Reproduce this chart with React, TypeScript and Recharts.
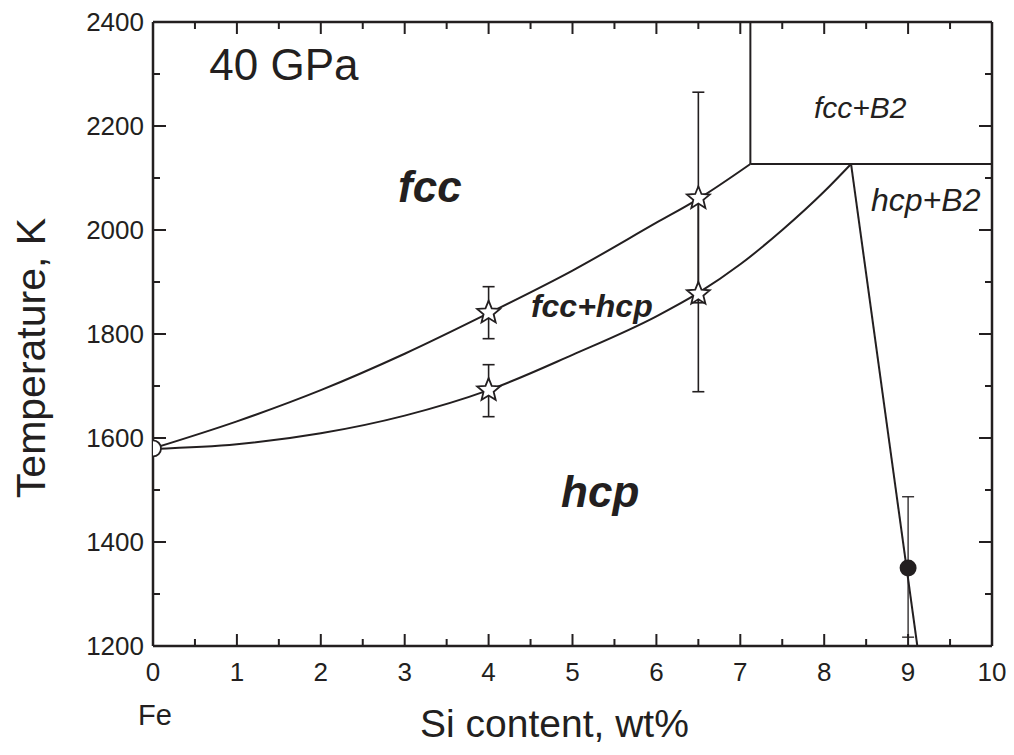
import React from "react";
import {
  ComposedChart,
  Line,
  Scatter,
  XAxis,
  YAxis,
  ErrorBar,
  ReferenceDot,
  Label,
} from "recharts";

const INK = "#231f20";
const FONT = "'Liberation Sans', Arial, Helvetica, sans-serif";

// axis ticks (major ones get a label)
const xTicks = [0, 0.5, 1, 1.5, 2, 2.5, 3, 3.5, 4, 4.5, 5, 5.5, 6, 6.5, 7, 7.5, 8, 8.5, 9, 9.5, 10];
const yTicks = [1200, 1300, 1400, 1500, 1600, 1700, 1800, 1900, 2000, 2100, 2200, 2300, 2400];
const xTickLabels = ["0", "1", "2", "3", "4", "5", "6", "7", "8", "9", "10"];
const yTickLabels = ["1200", "1400", "1600", "1800", "2000", "2200", "2400"];

// phase boundaries, Si wt% vs K
const fccBoundary = [
  { x: 0, y: 1580 },
  { x: 1, y: 1632 },
  { x: 2, y: 1692 },
  { x: 3, y: 1762 },
  { x: 4, y: 1840 },
  { x: 5, y: 1922 },
  { x: 6, y: 2014 },
  { x: 6.5, y: 2060 },
  { x: 7.12, y: 2127 },
];
const hcpBoundary = [
  { x: 0, y: 1579 },
  { x: 1, y: 1588 },
  { x: 2, y: 1609 },
  { x: 3, y: 1643 },
  { x: 4, y: 1692 },
  { x: 5, y: 1760 },
  { x: 6, y: 1834 },
  { x: 6.5, y: 1879 },
  { x: 7, y: 1934 },
  { x: 7.5, y: 2000 },
  { x: 8, y: 2074 },
  { x: 8.32, y: 2127 },
];
const b2Boundary = [
  { x: 8.32, y: 2127 },
  { x: 9.11, y: 1200 },
];
const eutectoidLine = [
  { x: 7.12, y: 2127 },
  { x: 10, y: 2127 },
];
const fccB2Line = [
  { x: 7.12, y: 2127 },
  { x: 7.12, y: 2400 },
];

// experimental points
const starPoints = [
  { x: 4, y: 1841, err: [50, 50] },
  { x: 4, y: 1692, err: [51, 49] },
  { x: 6.5, y: 2061, err: [201, 204] },
  { x: 6.5, y: 1877, err: [188, 183] },
];
const feMelt = [{ x: 0, y: 1580 }];
const b2Point = [{ x: 9, y: 1350, err: [133, 137] }];

const BottomTick = (props: any) => {
  const { x, y, payload } = props;
  const v = payload.value;
  const label = xTickLabels.find((t) => Number(t) === v);
  return (
    <g>
      <line x1={x} x2={x} y1={y} y2={y - (label ? 12 : 7)} stroke={INK} strokeWidth={2} />
      {label && (
        <text x={x} y={y + 35} textAnchor="middle" fontSize={26} fill={INK} fontFamily={FONT}>
          {label}
        </text>
      )}
      {v === 0 && (
        <text x={x + 2} y={y + 79} textAnchor="middle" fontSize={29} fill={INK} fontFamily={FONT}>
          Fe
        </text>
      )}
    </g>
  );
};

const TopTick = (props: any) => {
  const { x, y, payload } = props;
  const major = Number.isInteger(payload.value);
  return <line x1={x} x2={x} y1={y} y2={y + (major ? 12 : 7)} stroke={INK} strokeWidth={2} />;
};

const LeftTick = (props: any) => {
  const { x, y, payload } = props;
  const label = yTickLabels.find((t) => Number(t) === payload.value);
  return (
    <g>
      <line x1={x} x2={x + (label ? 13 : 7)} y1={y} y2={y} stroke={INK} strokeWidth={2} />
      {label && (
        <text x={x - 9} y={y + 9} textAnchor="end" fontSize={26} fill={INK} fontFamily={FONT}>
          {label}
        </text>
      )}
    </g>
  );
};

const RightTick = (props: any) => {
  const { x, y, payload } = props;
  const major = payload.value % 200 === 0;
  return <line x1={x} x2={x - (major ? 13 : 7)} y1={y} y2={y} stroke={INK} strokeWidth={2} />;
};

const Star = (props: any) => {
  const { cx, cy } = props;
  const pts: string[] = [];
  for (let i = 0; i < 10; i++) {
    const r = i % 2 === 0 ? 12 : 5.3;
    const a = -Math.PI / 2 + (i * Math.PI) / 5;
    pts.push(`${cx + r * Math.cos(a)},${cy + r * Math.sin(a)}`);
  }
  return <polygon points={pts.join(" ")} fill="#fff" stroke={INK} strokeWidth={1.8} />;
};

const OpenDot = (props: any) => (
  <circle cx={props.cx} cy={props.cy} r={8} fill="#fff" stroke={INK} strokeWidth={1.8} />
);
const FilledDot = (props: any) => <circle cx={props.cx} cy={props.cy} r={8.5} fill={INK} />;

const textLabel =
  (text: string, size: number, weight: string, style: string) => (p: any) => {
    const vb = p.viewBox || {};
    return (
      <text
        x={vb.x + (vb.width || 0) / 2}
        y={vb.y + (vb.height || 0) / 2}
        textAnchor="middle"
        fontSize={size}
        fontWeight={weight}
        fontStyle={style}
        fill={INK}
        fontFamily={FONT}
      >
        {text}
      </text>
    );
  };

export default function App() {
  return (
    <div style={{ width: 998, height: 737, fontFamily: FONT }}>
      <ComposedChart width={998} height={737} margin={{ top: 13, right: 13, left: 0, bottom: 0 }}>
        <XAxis
          type="number"
          dataKey="x"
          domain={[0, 10]}
          ticks={xTicks}
          interval={0}
          allowDataOverflow
          height={99}
          tickSize={0}
          tickMargin={0}
          tick={<BottomTick />}
          axisLine={{ stroke: INK, strokeWidth: 2.5 }}
        >
          <Label
            content={(p: any) => (
              <text
                x={p.viewBox.x + p.viewBox.width / 2 - 18}
                y={p.viewBox.y + 91}
                textAnchor="middle"
                fontSize={39}
                fill={INK}
                fontFamily={FONT}
              >
                Si content, wt%
              </text>
            )}
          />
        </XAxis>
        <XAxis
          xAxisId="top"
          orientation="top"
          type="number"
          dataKey="x"
          domain={[0, 10]}
          ticks={xTicks}
          interval={0}
          allowDataOverflow
          height={1}
          tickSize={0}
          tickMargin={0}
          tick={<TopTick />}
          axisLine={{ stroke: INK, strokeWidth: 2.5 }}
        />
        <YAxis
          type="number"
          domain={[1200, 2400]}
          ticks={yTicks}
          interval={0}
          allowDataOverflow
          width={145}
          tickSize={0}
          tickMargin={0}
          tick={<LeftTick />}
          axisLine={{ stroke: INK, strokeWidth: 2.5 }}
        >
          <Label
            content={(p: any) => (
              <text
                transform={`translate(${p.viewBox.x + 37}, ${p.viewBox.y + 336}) rotate(-90)`}
                textAnchor="middle"
                fontSize={41}
                fill={INK}
                fontFamily={FONT}
              >
                Temperature, K
              </text>
            )}
          />
        </YAxis>
        <YAxis
          yAxisId="right"
          orientation="right"
          type="number"
          domain={[1200, 2400]}
          ticks={yTicks}
          interval={0}
          allowDataOverflow
          width={1}
          tickSize={0}
          tickMargin={0}
          tick={<RightTick />}
          axisLine={{ stroke: INK, strokeWidth: 2.5 }}
        />

        {/* invisible copy so the mirrored top/right axes have a series */}
        <Line data={fccBoundary} xAxisId="top" yAxisId="right" dataKey="y" stroke="none" dot={false} activeDot={false} isAnimationActive={false} />

        <Line data={fccBoundary} dataKey="y" type="monotone" stroke={INK} strokeWidth={2} dot={false} isAnimationActive={false} />
        <Line data={hcpBoundary} dataKey="y" type="monotone" stroke={INK} strokeWidth={2} dot={false} isAnimationActive={false} />
        <Line data={b2Boundary} dataKey="y" type="linear" stroke={INK} strokeWidth={2} dot={false} isAnimationActive={false} />
        <Line data={eutectoidLine} dataKey="y" type="linear" stroke={INK} strokeWidth={2} dot={false} isAnimationActive={false} />
        <Line data={fccB2Line} dataKey="y" type="linear" stroke={INK} strokeWidth={2} dot={false} isAnimationActive={false} />

        <Scatter data={b2Point} dataKey="y" shape={<FilledDot />} isAnimationActive={false}>
          <ErrorBar dataKey="err" direction="y" width={6} stroke={INK} strokeWidth={1.3} />
        </Scatter>
        <Scatter data={starPoints} dataKey="y" shape={<Star />} isAnimationActive={false}>
          <ErrorBar dataKey="err" direction="y" width={6} stroke={INK} strokeWidth={1.6} />
        </Scatter>
        <Scatter data={feMelt} dataKey="y" shape={<OpenDot />} isAnimationActive={false} />

        <ReferenceDot x={1.56} y={2288} r={0} ifOverflow="visible" label={{ content: textLabel("40 GPa", 44, "normal", "normal") }} />
        <ReferenceDot x={3.3} y={2054} r={0} ifOverflow="visible" label={{ content: textLabel("fcc", 44, "bold", "italic") }} />
        <ReferenceDot x={5.33} y={1467} r={0} ifOverflow="visible" label={{ content: textLabel("hcp", 44, "bold", "italic") }} />
        <ReferenceDot x={5.23} y={1833} r={0} ifOverflow="visible" label={{ content: textLabel("fcc+hcp", 32, "bold", "italic") }} />
        <ReferenceDot x={8.43} y={2215} r={0} ifOverflow="visible" label={{ content: textLabel("fcc+B2", 30, "normal", "italic") }} />
        <ReferenceDot x={9.21} y={2037} r={0} ifOverflow="visible" label={{ content: textLabel("hcp+B2", 32, "normal", "italic") }} />
      </ComposedChart>
    </div>
  );
}
